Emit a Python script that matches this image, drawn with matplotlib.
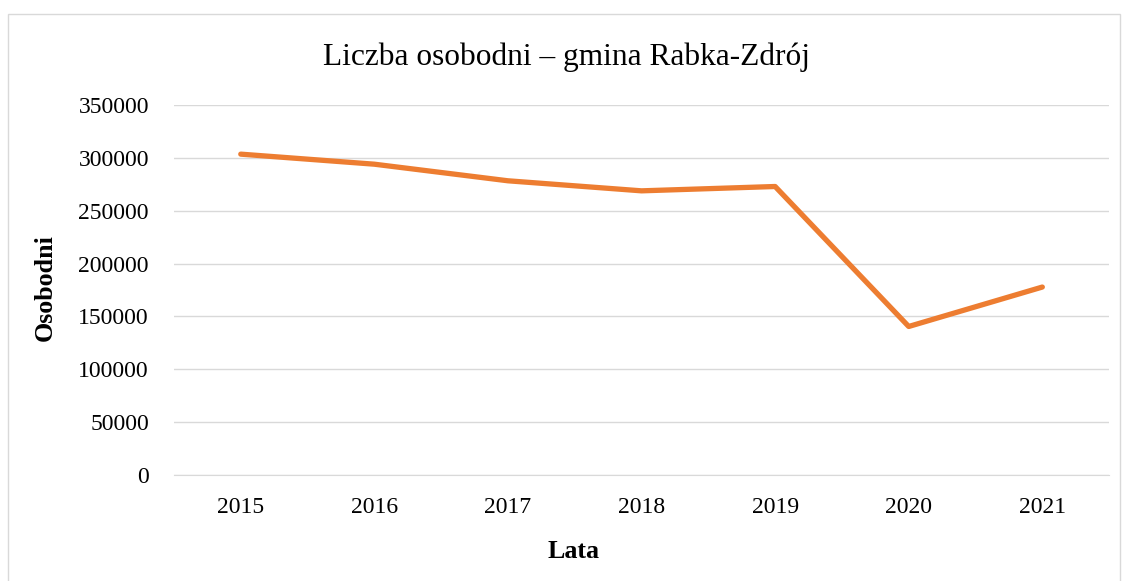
import matplotlib.pyplot as plt
from matplotlib.patches import Rectangle

years = ["2015", "2016", "2017", "2018", "2019", "2020", "2021"]
osobodni = [303500, 294000, 278300, 268800, 272900, 140500, 177800]
yticks = [0, 50000, 100000, 150000, 200000, 250000, 300000, 350000]

plt.rcParams['font.family'] = ['Liberation Serif', 'DejaVu Serif']

fig = plt.figure(figsize=(11.26, 5.81), dpi=100)
ax = fig.add_axes([0.1545, 0.1824, 0.8305, 0.6369])

# ramka wykresu
fig.patches.append(Rectangle((8 / 1126, -0.01), 1112 / 1126, 1 - 14 / 581 + 0.01,
                             transform=fig.transFigure, fill=False,
                             edgecolor="#D9D9D9", linewidth=1))

x = list(range(len(years)))
ax.plot(x, osobodni, color="#ED7D31", linewidth=3.8, solid_capstyle="round")

ax.set_xlim(-0.5, len(years) - 0.5)
ax.set_ylim(0, 350000)
ax.set_yticks(yticks)
ax.set_yticklabels([str(v) for v in yticks])
ax.set_xticks(x)
ax.set_xticklabels(years)
ax.grid(axis="y", color="#D9D9D9", linewidth=1)
ax.set_axisbelow(True)
for s in ax.spines.values():
    s.set_visible(False)
ax.spines["bottom"].set_visible(True)
ax.spines["bottom"].set_color("#D9D9D9")
ax.tick_params(length=0, labelsize=17)
ax.tick_params(axis="x", pad=16)
ax.tick_params(axis="y", pad=18)

fig.text(0.5035, 1 - 57 / 581, "Liczba osobodni – gmina Rabka-Zdrój",
         fontsize=22.6, ha="center", va="center")
fig.text(0.5095, 1 - 552 / 581, "Lata", fontsize=18.7, fontweight="bold",
         ha="center", va="center")
fig.text(45 / 1126, 1 - 288 / 581, "Osobodni", fontsize=18.7, fontweight="bold",
         ha="center", va="center", rotation=90)

fig.savefig("out.png", dpi=100)
